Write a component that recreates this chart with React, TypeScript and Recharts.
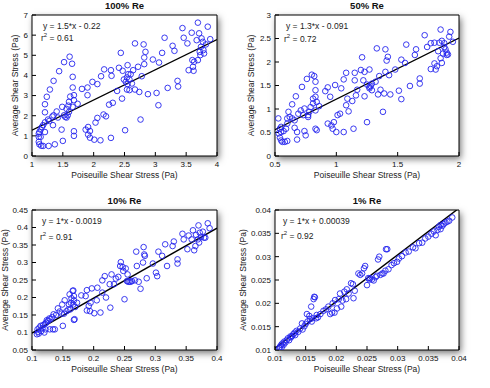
import { ScatterChart, Scatter, XAxis, YAxis, ReferenceLine } from "recharts";

const FONT = '"Liberation Sans", Arial, Helvetica, sans-serif';
const RING = "#2525ee";

// [Poiseuille shear stress, average shear stress] in Pa
const re100 = [
  [1.11, 1.11], [1.12, 1.19], [1.11, 0.95], [1.14, 1.31], [1.11, 0.7], [1.12, 0.58], [1.15, 0.51],
  [1.18, 0.5], [1.14, 0.95], [1.16, 1.44], [1.18, 1.53], [1.27, 0.5], [1.37, 0.58], [1.21, 1.19],
  [1.21, 1.67], [1.26, 1.81], [1.28, 1.74], [1.33, 1.96], [1.34, 1.53], [1.21, 2.17], [1.21, 2.57],
  [1.24, 2.94], [1.29, 3.3], [1.35, 3.73], [1.44, 4.21], [1.52, 4.66], [1.61, 4.93], [1.65, 4.58],
  [1.66, 3.93], [1.66, 3.4], [1.68, 3.02], [1.62, 2.95], [1.68, 2.77], [1.74, 2.59], [1.6, 2.69],
  [1.59, 2.5], [1.56, 2.34], [1.49, 2.44], [1.4, 2.21], [1.35, 2.02], [1.42, 1.91], [1.52, 2.02],
  [1.54, 1.94], [1.56, 1.91], [1.58, 2.02], [1.6, 2.19], [1.66, 2.44], [1.48, 1.31], [1.5, 0.75],
  [1.68, 1.23], [1.68, 1.0], [1.81, 3.33], [1.9, 3.4], [1.9, 3.02], [1.98, 3.68], [2.06, 3.57],
  [1.87, 1.31], [1.91, 1.44], [1.94, 1.24], [1.91, 1.06], [1.94, 0.91], [2.01, 0.81], [2.03, 1.66],
  [2.06, 1.89], [2.12, 3.96], [2.17, 4.3], [2.16, 2.06], [2.2, 1.97], [2.11, 0.78], [2.28, 0.9],
  [2.25, 2.55], [2.31, 2.64], [2.28, 4.26], [2.29, 3.98], [2.38, 3.23], [2.41, 4.38], [2.44, 5.12],
  [2.47, 4.23], [2.46, 2.85], [2.49, 3.8], [2.51, 1.28], [2.54, 3.3], [2.54, 3.9], [2.55, 4.51],
  [2.52, 3.68], [2.56, 4.06], [2.58, 3.8], [2.55, 3.57], [2.6, 4.06], [2.58, 3.27], [2.62, 3.6],
  [2.64, 4.26], [2.67, 3.3], [2.67, 5.59], [2.74, 3.18], [2.72, 4.43], [2.78, 3.96], [2.81, 5.54],
  [2.82, 4.89], [2.84, 5.17], [2.82, 4.56], [2.76, 1.81], [2.88, 3.07], [2.96, 4.79], [3.02, 3.13],
  [3.06, 4.64], [3.05, 2.52], [3.11, 5.12], [3.15, 5.87], [3.2, 3.38], [3.28, 5.47], [3.31, 5.22],
  [3.36, 3.73], [3.37, 3.45], [3.44, 6.35], [3.46, 5.87], [3.52, 5.59], [3.54, 4.26], [3.59, 6.12],
  [3.6, 4.76], [3.61, 4.43], [3.62, 4.23], [3.63, 4.68], [3.67, 5.75], [3.69, 6.62], [3.71, 6.09],
  [3.69, 4.76], [3.73, 5.01], [3.74, 5.42], [3.75, 5.84], [3.77, 5.67], [3.78, 5.26], [3.79, 5.09],
  [3.82, 5.54], [3.85, 6.42], [3.89, 5.8], [3.72, 5.17],
];

const re50 = [
  [0.527, 0.8], [0.54, 0.58], [0.55, 0.62], [0.53, 0.48], [0.54, 0.39], [0.55, 0.33], [0.56, 0.3],
  [0.55, 0.51], [0.57, 0.53], [0.58, 0.3], [0.6, 0.32], [0.59, 0.58], [0.6, 0.69], [0.6, 0.8],
  [0.61, 0.94], [0.62, 0.83], [0.64, 1.1], [0.64, 0.8], [0.66, 0.6], [0.66, 0.76], [0.67, 1.27],
  [0.68, 0.51], [0.68, 0.35], [0.69, 0.9], [0.71, 0.97], [0.72, 1.47], [0.73, 0.87], [0.74, 1.01],
  [0.74, 0.53], [0.75, 0.44], [0.76, 1.64], [0.77, 0.87], [0.77, 0.83], [0.78, 0.94], [0.79, 1.04],
  [0.8, 1.73], [0.81, 1.12], [0.81, 1.22], [0.82, 1.7], [0.83, 1.58], [0.83, 1.4], [0.83, 1.26],
  [0.84, 1.15], [0.83, 0.97], [0.83, 0.58], [0.84, 0.55], [0.86, 1.06], [0.91, 1.38], [0.93, 1.46],
  [0.93, 0.69], [0.95, 1.26], [0.96, 0.65], [0.97, 0.58], [0.98, 0.72], [0.99, 1.51], [1.0, 0.51],
  [1.01, 0.87], [1.03, 0.9], [1.04, 1.44], [1.06, 0.51], [1.06, 1.63], [1.08, 1.08], [1.08, 1.77],
  [1.09, 1.22], [1.1, 0.95], [1.13, 1.17], [1.14, 0.58], [1.15, 1.77], [1.15, 1.61], [1.16, 1.29],
  [1.17, 1.41], [1.2, 1.83], [1.21, 2.1], [1.22, 1.61], [1.23, 1.27], [1.23, 1.79], [1.25, 1.52],
  [1.25, 0.72], [1.27, 1.84], [1.27, 1.47], [1.27, 1.44], [1.28, 1.49], [1.29, 1.4], [1.29, 1.54],
  [1.32, 1.58], [1.33, 2.29], [1.34, 1.31], [1.35, 1.7], [1.36, 1.41], [1.38, 0.94], [1.39, 1.33],
  [1.4, 1.79], [1.4, 2.27], [1.41, 2.03], [1.42, 2.11], [1.43, 1.72], [1.44, 1.31], [1.48, 1.84],
  [1.51, 1.39], [1.53, 2.05], [1.53, 1.21], [1.56, 1.98], [1.57, 2.37], [1.6, 1.49], [1.64, 2.15],
  [1.65, 2.27], [1.68, 1.65], [1.68, 1.54], [1.72, 2.57], [1.74, 2.32], [1.77, 2.4], [1.77, 1.85],
  [1.8, 2.41], [1.8, 1.97], [1.81, 1.84], [1.82, 1.91], [1.83, 2.23], [1.84, 2.41], [1.85, 2.08],
  [1.85, 2.69], [1.86, 2.45], [1.86, 1.98], [1.87, 2.18], [1.88, 2.32], [1.88, 2.4], [1.89, 2.27],
  [1.9, 2.2], [1.9, 2.15], [1.92, 2.54], [1.93, 2.64], [1.91, 2.16], [1.95, 2.43],
];

const re10 = [
  [0.108, 0.095], [0.11, 0.102], [0.111, 0.097], [0.109, 0.109], [0.112, 0.114], [0.115, 0.104],
  [0.117, 0.112], [0.114, 0.119], [0.118, 0.121], [0.12, 0.1], [0.121, 0.125], [0.122, 0.109],
  [0.123, 0.128], [0.124, 0.135], [0.126, 0.133], [0.128, 0.14], [0.129, 0.109], [0.13, 0.138],
  [0.133, 0.144], [0.134, 0.109], [0.135, 0.152], [0.137, 0.109], [0.139, 0.15], [0.142, 0.169],
  [0.145, 0.16], [0.148, 0.154], [0.149, 0.18], [0.15, 0.119], [0.152, 0.154], [0.153, 0.192],
  [0.156, 0.161], [0.159, 0.166], [0.16, 0.18], [0.161, 0.209], [0.162, 0.166], [0.163, 0.185],
  [0.164, 0.198], [0.166, 0.219], [0.167, 0.18], [0.168, 0.136], [0.167, 0.22], [0.168, 0.204],
  [0.169, 0.138], [0.168, 0.192], [0.17, 0.173], [0.173, 0.185], [0.18, 0.206], [0.187, 0.204],
  [0.189, 0.221], [0.189, 0.163], [0.192, 0.176], [0.194, 0.161], [0.195, 0.185], [0.197, 0.226],
  [0.201, 0.155], [0.205, 0.192], [0.206, 0.228], [0.211, 0.157], [0.214, 0.249], [0.214, 0.214],
  [0.218, 0.261], [0.22, 0.2], [0.226, 0.238], [0.227, 0.171], [0.229, 0.266], [0.233, 0.238],
  [0.236, 0.254], [0.24, 0.259], [0.243, 0.29], [0.244, 0.301], [0.247, 0.287], [0.248, 0.276],
  [0.25, 0.195], [0.252, 0.283], [0.255, 0.266], [0.254, 0.247], [0.256, 0.245], [0.258, 0.245],
  [0.26, 0.245], [0.262, 0.247], [0.267, 0.249], [0.269, 0.331], [0.27, 0.29], [0.273, 0.245],
  [0.276, 0.225], [0.28, 0.3], [0.281, 0.344], [0.282, 0.323], [0.283, 0.319], [0.286, 0.255],
  [0.296, 0.297], [0.301, 0.271], [0.303, 0.261], [0.305, 0.331], [0.311, 0.319], [0.316, 0.352],
  [0.319, 0.29], [0.328, 0.347], [0.33, 0.36], [0.336, 0.309], [0.336, 0.297], [0.344, 0.382],
  [0.346, 0.366], [0.352, 0.338], [0.354, 0.377], [0.359, 0.366], [0.361, 0.392], [0.363, 0.335],
  [0.365, 0.347], [0.366, 0.379], [0.369, 0.366], [0.37, 0.406], [0.371, 0.357], [0.372, 0.385],
  [0.374, 0.373], [0.377, 0.388], [0.379, 0.371], [0.381, 0.371], [0.385, 0.412], [0.388, 0.398],
];

const re1 = [
  [0.0107, 0.0104], [0.0108, 0.0107], [0.011, 0.0111], [0.0111, 0.0106], [0.0112, 0.0114],
  [0.0114, 0.0111], [0.0115, 0.0118], [0.0117, 0.0116], [0.0119, 0.0121], [0.0121, 0.0125],
  [0.0123, 0.0121], [0.0125, 0.0129], [0.0126, 0.0127], [0.0128, 0.013], [0.013, 0.0134],
  [0.0132, 0.0137], [0.0133, 0.0132], [0.0135, 0.0141], [0.0138, 0.0139], [0.0141, 0.0146],
  [0.0144, 0.0157], [0.0145, 0.0144], [0.0148, 0.0151], [0.015, 0.0156], [0.0152, 0.0177],
  [0.0153, 0.0161], [0.0156, 0.0173], [0.0157, 0.0166], [0.0159, 0.0193], [0.016, 0.0161],
  [0.0161, 0.0168], [0.0163, 0.0209], [0.0164, 0.0214], [0.0165, 0.0213], [0.0167, 0.0168],
  [0.0168, 0.0175], [0.017, 0.017], [0.0174, 0.0177], [0.0179, 0.0184], [0.0183, 0.0187],
  [0.0187, 0.0193], [0.019, 0.0177], [0.0193, 0.018], [0.0194, 0.02], [0.0197, 0.018],
  [0.0198, 0.0207], [0.0201, 0.0189], [0.0204, 0.0209], [0.0206, 0.0221], [0.0208, 0.0193],
  [0.021, 0.0206], [0.0213, 0.0225], [0.0216, 0.0209], [0.0217, 0.023], [0.022, 0.0221],
  [0.0224, 0.0243], [0.0227, 0.0241], [0.0228, 0.0211], [0.023, 0.0227], [0.0236, 0.0264],
  [0.0239, 0.0261], [0.0242, 0.0264], [0.0245, 0.0275], [0.0247, 0.028], [0.025, 0.0239],
  [0.0252, 0.0254], [0.0254, 0.0251], [0.0255, 0.0254], [0.0258, 0.0251], [0.0261, 0.0249],
  [0.0264, 0.0256], [0.0266, 0.0259], [0.0268, 0.0294], [0.027, 0.03], [0.0272, 0.0261],
  [0.0275, 0.0264], [0.0277, 0.0264], [0.028, 0.027], [0.0281, 0.0316], [0.0283, 0.0316],
  [0.0285, 0.0273], [0.029, 0.0282], [0.0294, 0.0286], [0.0299, 0.0289], [0.0302, 0.0296],
  [0.0307, 0.0301], [0.0313, 0.0309], [0.0318, 0.0311], [0.0325, 0.032], [0.0329, 0.0318],
  [0.0335, 0.0329], [0.034, 0.033], [0.0345, 0.0339], [0.035, 0.0343], [0.0355, 0.0349],
  [0.0359, 0.0354], [0.0362, 0.0346], [0.0365, 0.0357], [0.0367, 0.0364], [0.037, 0.0368],
  [0.037, 0.0359], [0.0373, 0.0366], [0.0375, 0.037], [0.0378, 0.0373], [0.0381, 0.0375],
  [0.0384, 0.0377], [0.0389, 0.0384],
];

const ticks100X = [1, 1.5, 2, 2.5, 3, 3.5, 4];
const ticks100Y = [0, 1, 2, 3, 4, 5, 6, 7];
const ticks50X = [0.5, 1, 1.5, 2];
const ticks50Y = [0, 0.5, 1, 1.5, 2, 2.5, 3];
const ticks10 = [0.1, 0.15, 0.2, 0.25, 0.3, 0.35, 0.4];
const ticks10Y = [0.05, 0.1, 0.15, 0.2, 0.25, 0.3, 0.35, 0.4, 0.45];
const ticks1 = [0.01, 0.015, 0.02, 0.025, 0.03, 0.035, 0.04];

// linear fits [slope, intercept]
const fit100 = [1.5, -0.22];
const fit50 = [1.3, -0.091];
const fit10 = [1, -0.0019];
const fit1 = [1, 0.00039];

const fmt = (v: number) => String(+v.toFixed(4));

const ring = (p: any) => (
  <circle cx={p.cx} cy={p.cy} r={2.8} fill="none" stroke={RING} strokeWidth={0.9} />
);

type PanelProps = {
  left: number;
  top: number;
  width: number;
  marginTop: number;
  yAxisWidth: number;
  yLabelX: number;
  title: string;
  fitLabel: string;
  r2: string;
  pts: number[][];
  xTicks: number[];
  yTicks: number[];
  fit: number[];
  noteDx: number;
  noteGap: number;
};

const HEIGHT = 194;
const X_AXIS_H = 38;
const MARGIN_R = 28;

function Panel(props: PanelProps) {
  const { left, top, width, marginTop, yAxisWidth, yLabelX, title, fitLabel, r2, pts, xTicks, yTicks, fit } = props;
  const xDomain = [xTicks[0], xTicks[xTicks.length - 1]];
  const yDomain = [yTicks[0], yTicks[yTicks.length - 1]];
  const data = pts.map(([x, y]) => ({ x, y }));

  // plot box, used for the shadow card and the text placed around it
  const px = left + yAxisWidth;
  const py = top + marginTop;
  const pw = width - yAxisWidth - MARGIN_R;
  const ph = HEIGHT - marginTop - X_AXIS_H;

  const tickStyle = { fill: "#111", fontSize: 8, fontFamily: FONT };

  return (
    <>
      <div
        style={{
          position: "absolute", left: px, top: py, width: pw, height: ph,
          background: "#fff", boxShadow: "2px 3px 7px rgba(0,0,0,0.55)",
        }}
      />
      <div style={{ position: "absolute", left, top }}>
        <ScatterChart width={width} height={HEIGHT} margin={{ top: marginTop, right: MARGIN_R, bottom: 0, left: 0 }}>
          <XAxis
            type="number" dataKey="x" domain={xDomain} ticks={xTicks} interval={0} allowDataOverflow
            height={X_AXIS_H} tickSize={-4} tickMargin={9} tickFormatter={fmt} tick={tickStyle}
            axisLine={{ stroke: "#000" }} tickLine={{ stroke: "#000" }}
            label={{
              content: (l: any) => (
                <text
                  x={l.viewBox.x + l.viewBox.width / 2} y={l.viewBox.y + 18.5}
                  textAnchor="middle" dominantBaseline="central"
                  fontSize={8.5} fontFamily={FONT} fill="#222"
                >
                  Poiseuille Shear Stress (Pa)
                </text>
              ),
            }}
          />
          <XAxis
            xAxisId="top" orientation="top" mirror type="number" domain={xDomain} ticks={xTicks}
            interval={0} allowDataOverflow tick={false} tickSize={4}
            axisLine={{ stroke: "#000" }} tickLine={{ stroke: "#000" }}
          />
          <YAxis
            type="number" dataKey="y" domain={yDomain} ticks={yTicks} interval={0} allowDataOverflow
            width={yAxisWidth} tickSize={-4} tickMargin={8} tickFormatter={fmt} tick={tickStyle}
            axisLine={{ stroke: "#000" }} tickLine={{ stroke: "#000" }}
            label={{
              content: (l: any) => {
                const cy = l.viewBox.y + l.viewBox.height / 2;
                return (
                  <text
                    x={yLabelX} y={cy} transform={`rotate(-90 ${yLabelX} ${cy})`}
                    textAnchor="middle" dominantBaseline="central"
                    fontSize={8.5} fontFamily={FONT} fill="#222"
                  >
                    Average Shear Stress (Pa)
                  </text>
                );
              },
            }}
          />
          <YAxis
            yAxisId="right" orientation="right" mirror type="number" domain={yDomain} ticks={yTicks}
            interval={0} allowDataOverflow tick={false} tickSize={4}
            axisLine={{ stroke: "#000" }} tickLine={{ stroke: "#000" }}
          />
          <Scatter data={data} shape={ring} isAnimationActive={false} />
          <ReferenceLine
            segment={[
              { x: xDomain[0], y: fit[0] * xDomain[0] + fit[1] },
              { x: xDomain[1], y: fit[0] * xDomain[1] + fit[1] },
            ]}
            ifOverflow="hidden" stroke="#000" strokeWidth={1.4}
          />
        </ScatterChart>
      </div>
      <div
        style={{
          position: "absolute", left: px, width: pw, top: py - 14, height: 10, lineHeight: "10px",
          textAlign: "center", fontFamily: FONT, fontWeight: "bold", fontSize: 9.5, color: "#111",
        }}
      >
        {title}
      </div>
      <div
        style={{
          position: "absolute", left: px + props.noteDx, top: py + 6, lineHeight: "10px",
          fontFamily: FONT, fontSize: 8.5, color: "#222", whiteSpace: "nowrap",
        }}
      >
        {fitLabel}
      </div>
      <div
        style={{
          position: "absolute", left: px + props.noteDx - 2, top: py + 6 + props.noteGap, lineHeight: "10px",
          fontFamily: FONT, fontSize: 8.5, color: "#222", whiteSpace: "nowrap",
        }}
      >
        r<sup style={{ fontSize: 6, verticalAlign: "4px", lineHeight: 0 }}>2</sup> = {r2}
      </div>
    </>
  );
}

export default function App() {
  return (
    <div style={{ position: "absolute", left: 0, top: 0, width: 490, height: 388, background: "#fff", overflow: "hidden" }}>
      <Panel
        left={0} top={0} width={245} marginTop={15} yAxisWidth={32} yLabelX={15}
        title="100% Re" fitLabel="y = 1.5*x - 0.22" r2="0.61"
        pts={re100} xTicks={ticks100X} yTicks={ticks100Y} fit={fit100} noteDx={11} noteGap={12}
      />
      <Panel
        left={235} top={0} width={252} marginTop={15} yAxisWidth={40} yLabelX={16}
        title="50% Re" fitLabel="y = 1.3*x - 0.091" r2="0.72"
        pts={re50} xTicks={ticks50X} yTicks={ticks50Y} fit={fit50} noteDx={11} noteGap={13}
      />
      <Panel
        left={0} top={194} width={245} marginTop={16} yAxisWidth={32} yLabelX={5}
        title="10% Re" fitLabel="y = 1*x - 0.0019" r2="0.91"
        pts={re10} xTicks={ticks10} yTicks={ticks10Y} fit={fit10} noteDx={10} noteGap={16}
      />
      <Panel
        left={235} top={194} width={252} marginTop={16} yAxisWidth={40} yLabelX={8}
        title="1% Re" fitLabel="y = 1*x + 0.00039" r2="0.92"
        pts={re1} xTicks={ticks1} yTicks={ticks1} fit={fit1} noteDx={8} noteGap={15}
      />
    </div>
  );
}
